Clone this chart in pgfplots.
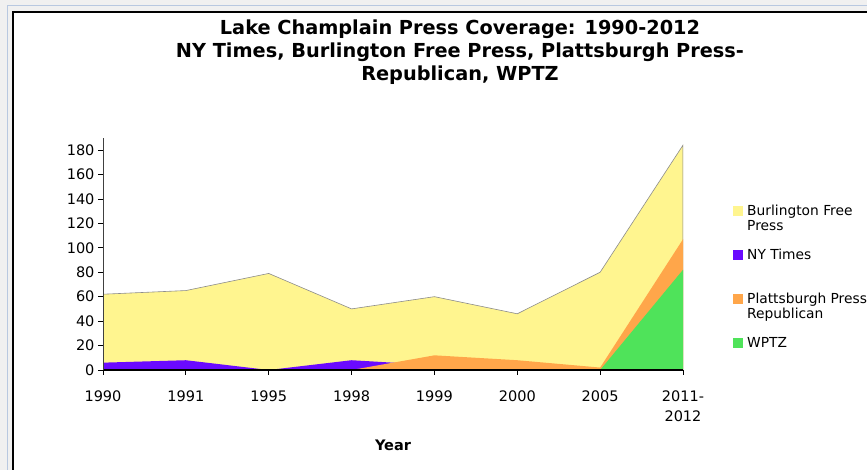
\documentclass[border=0pt]{standalone}
\usepackage{fontspec}
\setmainfont{DejaVu Sans}
\usepackage{pgfplots}
\pgfplotsset{compat=1.18}
\definecolor{bfp}{RGB}{255,245,143}
\definecolor{nyt}{RGB}{106,10,255}
\definecolor{ppr}{RGB}{255,166,74}
\definecolor{wptz}{RGB}{79,227,90}
\definecolor{frameblue}{RGB}{184,200,224}
\begin{document}
\begin{tikzpicture}
\useasboundingbox (0,0) rectangle (867pt,470pt);
\fill[black!6] (0,0) rectangle (867pt,470pt);
\draw[frameblue, line width=1pt] (7pt,-2pt) -- (7pt,464pt) -- (870pt,464pt);
\fill[white] (13pt,-2pt) rectangle (870pt,458pt);
\draw[black, line width=1.5pt] (13pt,-5pt) -- (13pt,458pt) -- (870pt,458pt);
\node[font=\fontsize{19.3}{23}\selectfont\bfseries, align=center, anchor=north, inner sep=0pt] at (460pt,450pt)
 {Lake Champlain Press Coverage: 1990-2012\\NY Times, Burlington Free Press, Plattsburgh Press-\\Republican, WPTZ};
\begin{axis}[
 at={(103pt,100pt)}, anchor=south west, scale only axis,
 width=580pt, height=232.2pt,
 xmin=0, xmax=7, ymin=0, ymax=190,
 axis x line=bottom, axis y line=left,
 axis line style={-},
 x axis line style={line width=1.2pt, black},
 y axis line style={line width=0.8pt, black!75},
 xtick={0,...,7},
 xticklabels={1990,1991,1995,1998,1999,2000,2005,{2011-\\2012}},
 ytick={0,20,...,180},
 xticklabel style={align=center, font=\fontsize{14.5}{20}\selectfont, yshift=-12pt},
 yticklabel style={font=\fontsize{14.5}{18}\selectfont},
 /pgf/number format/assume math mode=true,
 tick align=outside, major tick length=5pt,
 tick style={black, line width=0.8pt},
 xlabel={Year},
 every axis x label/.style={at={(axis description cs:0.5,0)}, yshift=-75pt, anchor=center, font=\fontsize{14.5}{18}\selectfont\bfseries},
 axis on top,
 legend image code/.code={\path[#1,draw=none] (0pt,-0.5pt) rectangle (10pt,9.5pt); \path[draw=none,fill=none] (0pt,-20pt) -- (0pt,12pt);},
 legend style={draw=none, fill=none, inner sep=0pt, at={(1.0862,0.718)}, anchor=north west,
   font=\fontsize{13.8}{15}\selectfont, row sep=12pt, column sep=4pt,
   nodes={inner sep=0pt}, cells={anchor=base west}},
]
\addplot[fill=bfp, draw=black!45, line width=0.6pt] coordinates {(0,62)(1,65)(2,79)(3,50)(4,60)(5,46)(6,80)(7,184)} \closedcycle;
\addlegendentry{\begin{tabular}[t]{@{}l@{}}Burlington Free\\Press\end{tabular}}
\addplot[fill=nyt, draw=none] coordinates {(0,6)(1,8)(2,0)(3,8)(4,4)(5,0)(6,0)(7,0)} \closedcycle;
\addlegendentry{NY Times}
\addplot[fill=ppr, draw=none] coordinates {(0,0)(1,0)(2,0)(3,0)(4,12)(5,8)(6,2)(7,107)} \closedcycle;
\addlegendentry{\begin{tabular}[t]{@{}l@{}}Plattsburgh Press\\Republican\end{tabular}}
\addplot[fill=wptz, draw=none] coordinates {(0,0)(1,0)(2,0)(3,0)(4,0)(5,0)(6,0)(7,82)} \closedcycle;
\addlegendentry{WPTZ}
\end{axis}
\end{tikzpicture}
\end{document}
